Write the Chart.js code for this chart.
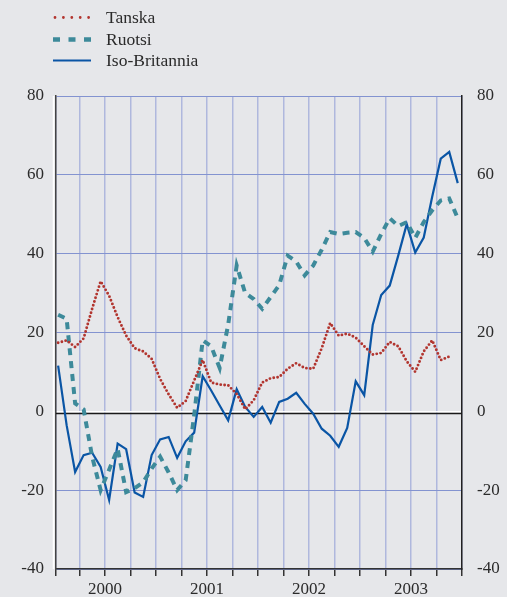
<!DOCTYPE html>
<html>
<head>
<meta charset="utf-8">
<script src="https://cdn.jsdelivr.net/npm/chart.js@4"></script>
<style>
  html, body { margin: 0; padding: 0; background: #e6e7ea; }
  #wrap { width: 507px; height: 597px; }
</style>
</head>
<body>
<div id="wrap"><canvas id="myChart" width="507" height="597"></canvas></div>
<script>
// monthly data, Jan 2000 - Dec 2003
const years = ['2000', '2001', '2002', '2003'];
const yTicks = [-40, -20, 0, 20, 40, 60, 80];

const tanska = [17.4, 18, 16.3, 18.5, 26, 33, 29.3, 23.9, 19.2, 16, 15.2, 13.3,
    8.2, 4.3, 0.9, 2.6, 7.8, 13, 7.3, 6.8, 6.6, 4.4, 0.5, 2.8,
    7.3, 8.4, 8.7, 10.8, 12.2, 11, 10.8, 16, 22.4, 19.2, 19.7, 18.7,
    16.5, 14.4, 14.8, 17.6, 16.5, 12.7, 10, 15.2, 18, 13, 13.9, null];
const ruotsi = [24.5, 23.5, 2, 0.5, -11.5, -20, -14.8, -9.5, -20.5, -19.5, -18, -14.5,
    -11.5, -15.5, -20, -17.5, -1, 18, 16.5, 11, 22, 37, 30, 28.5,
    26, 29, 32, 39.5, 38, 34.5, 37, 41, 45.5, 45, 45.3, 45.5,
    44, 40.5, 45, 49, 47, 48, 44, 48, 51, 53.5, 54, 49];
const isoBritannia = [11.6, -3.5, -15.4, -11.1, -10.5, -14.1, -22.5, -8.2, -9.6, -20.6, -21.7, -11.1,
    -7.1, -6.5, -11.8, -7.6, -5.4, 8.9, 5.3, 1.5, -2.3, 5.6, 1.1, -1.4,
    1.1, -2.9, 2.4, 3.2, 4.7, 1.9, -0.6, -4.4, -6.2, -9.0, -4.2, 7.6,
    4.1, 21.9, 29.5, 31.9, 39.5, 47.5, 40.3, 44.1, 54.5, 64.1, 65.8, 57.9];

const toPoints = (arr) => arr.map((v, i) => ({ x: i, y: v }));

// quarter gridlines, year label in the middle of each year
const quarterTicks = [-0.25];
for (let q = 2.5; q < 47; q += 3) quarterTicks.push(q);
quarterTicks.push(47.5);

const font = { family: '"Liberation Serif", "Times New Roman", serif', size: 17 };
const textColor = '#2b2b2b';

const legendStyles = [
    { dash: [0, 8.4], width: 2.8, cap: 'round', x0: 55, x1: 90, y: 17.5 },
    { dash: [7, 8.5], width: 4.5, cap: 'butt', x0: 53, x1: 91, y: 39.5 },
    { dash: [], width: 2, cap: 'butt', x0: 53, x1: 91, y: 60.5 }
];

const extras = {
    id: 'extras',
    beforeDatasetsDraw(chart) {
        const { ctx, chartArea, scales } = chart;
        const y0 = scales.y.getPixelForValue(0);
        ctx.save();
        ctx.strokeStyle = '#1a1a1a';
        ctx.lineWidth = 1.5;
        ctx.beginPath();
        ctx.moveTo(chartArea.left, y0 + 2.2);
        ctx.lineTo(chartArea.right, y0 + 2.2);
        ctx.stroke();
        ctx.strokeStyle = '#ffffff';
        ctx.lineWidth = 1.5;
        ctx.beginPath();
        ctx.moveTo(chartArea.left - 2.5, chartArea.top);
        ctx.lineTo(chartArea.left - 2.5, chartArea.bottom);
        ctx.stroke();
        ctx.restore();
    },
    afterDraw(chart) {
        const ctx = chart.ctx;
        ctx.save();
        chart.data.datasets.forEach((ds, i) => {
            const st = legendStyles[i];
            ctx.strokeStyle = ds.borderColor;
            ctx.lineWidth = st.width;
            ctx.lineCap = st.cap;
            ctx.setLineDash(st.dash);
            ctx.beginPath();
            ctx.moveTo(st.x0, st.y);
            ctx.lineTo(st.x1, st.y);
            ctx.stroke();
            ctx.setLineDash([]);
            ctx.fillStyle = textColor;
            ctx.font = '17.5px ' + font.family;
            ctx.textBaseline = 'middle';
            ctx.fillText(ds.label, 106, st.y + 0.5);
        });
        ctx.restore();
    }
};

new Chart(document.getElementById('myChart').getContext('2d'), {
    type: 'line',
    data: {
        datasets: [
            {
                label: 'Tanska',
                data: toPoints(tanska),
                borderColor: '#b2352f',
                borderWidth: 2.9,
                borderDash: [0, 3.9],
                borderCapStyle: 'round',
                pointRadius: 0,
                tension: 0
            },
            {
                label: 'Ruotsi',
                data: toPoints(ruotsi),
                borderColor: '#3d8a9a',
                borderWidth: 4,
                borderDash: [7, 6],
                pointRadius: 0,
                tension: 0
            },
            {
                label: 'Iso-Britannia',
                data: toPoints(isoBritannia),
                borderColor: '#0a55a5',
                borderWidth: 2.2,
                pointRadius: 0,
                tension: 0
            }
        ]
    },
    options: {
        responsive: false,
        animation: false,
        layout: { padding: { top: 96, left: 0, right: 0, bottom: 0 } },
        plugins: { legend: { display: false }, tooltip: { enabled: false } },
        scales: {
            x: {
                type: 'linear',
                min: -0.25,
                max: 47.5,
                afterBuildTicks: (s) => { s.ticks = quarterTicks.map(v => ({ value: v })); },
                afterFit: (s) => { s.height = 28; },
                ticks: {
                    autoSkip: false,
                    maxRotation: 0,
                    padding: 3,
                    font: font,
                    color: textColor,
                    callback: (v) => {
                        const k = (v - 5.5) / 12;
                        return Number.isInteger(k) ? years[k] : '';
                    }
                },
                grid: { color: '#afb8dd', lineWidth: 1.5, drawTicks: true, tickLength: 7, tickColor: '#333' },
                border: { color: '#333', width: 1.5 }
            },
            y: {
                position: 'left',
                min: -40,
                max: 80,
                afterBuildTicks: (s) => { s.ticks = yTicks.map(v => ({ value: v })); },
                afterFit: (s) => { s.width = 56; },
                ticks: { font: font, color: textColor, padding: 12 },
                grid: {
                    drawTicks: false,
                    color: (c) => c.tick && c.tick.value === 0 ? '#ffffff' : '#8393d0',
                    lineWidth: (c) => c.tick && c.tick.value === 0 ? 1.5 : 1
                },
                border: { color: '#444', width: 1.5 }
            },
            y2: {
                position: 'right',
                min: -40,
                max: 80,
                afterBuildTicks: (s) => { s.ticks = yTicks.map(v => ({ value: v })); },
                afterFit: (s) => { s.width = 45; },
                ticks: { font: font, color: textColor, padding: 15 },
                grid: { drawOnChartArea: false, drawTicks: false },
                border: { color: '#222', width: 1.5 }
            }
        }
    },
    plugins: [extras]
});
</script>
</body>
</html>
